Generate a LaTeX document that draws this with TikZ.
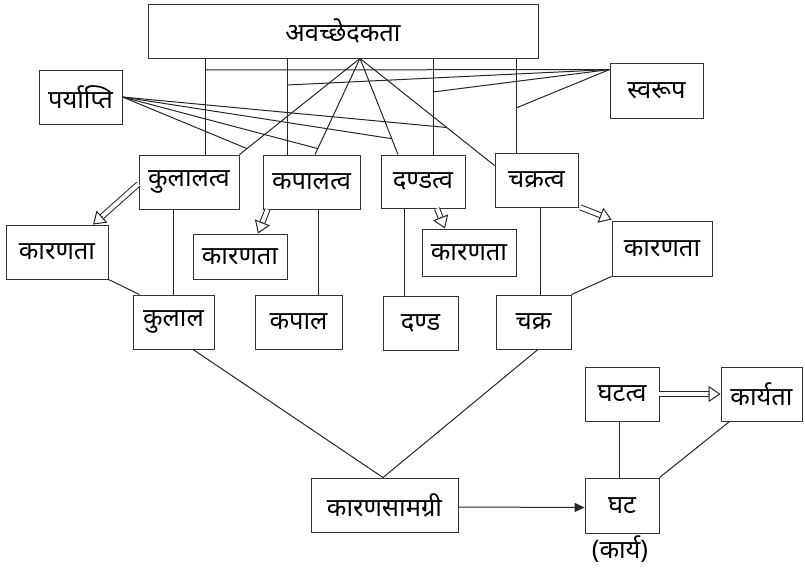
\documentclass[tikz,border=0pt]{standalone}
\usepackage{fontspec}
\newfontfamily\deva[Script=Devanagari]{Noto Sans}
\usetikzlibrary{arrows.meta,calc}

\tikzset{
  box/.style={draw=black!80, line width=0.9pt, minimum height=54pt, inner sep=1pt, font=\deva\fontsize{25.5}{28}\selectfont},
  link/.style={line width=1pt, black!85},
  shaft/.style={line width=1pt, black!85, double, double distance=4pt, shorten >=11pt},
  hollowtip/.style={line width=1pt, black!85, -{Triangle[open, length=12pt, width=16pt, fill=white]}},
}

\begin{document}
\begin{tikzpicture}[x=1pt, y=-1pt]
\useasboundingbox (0,0) rectangle (805,569);

% Top row
\node[box, minimum width=390pt] (avac) at (343,31) {अवच्छेदकता};
\node[box, minimum width=83pt] (paryapti) at (80.5,97) {पर्याप्ति};
\node[box, minimum width=93pt, minimum height=55pt] (svarup) at (656.5,90.5) {स्वरूप};

% -tva boxes
\node[box, minimum width=100pt] (kulalatva) at (189,182) {कुलालत्व};
\node[box, minimum width=97pt] (kapalatva) at (311.5,182) {कपालत्व};
\node[box, minimum width=84pt, minimum height=53pt] (dandatva) at (423,181.5) {दण्डत्व};
\node[box, minimum width=83pt] (chakratva) at (536.5,180) {चक्रत्व};

% karanata boxes
\node[box, minimum width=102pt] (karanata1) at (57,252) {कारणता};
\node[box, minimum width=94pt, minimum height=45pt] (karanata2) at (240,256.5) {कारणता};
\node[box, minimum width=94pt, minimum height=47pt] (karanata3) at (469,252.5) {कारणता};
\node[box, minimum width=100pt, minimum height=55pt] (karanata4) at (662,248.5) {कारणता};

% causes
\node[box, minimum width=81pt] (kulal) at (173.5,322) {कुलाल};
\node[box, minimum width=87pt] (kapal) at (298.5,322) {कपाल};
\node[box, minimum width=75pt] (danda) at (420.5,323) {दण्ड};
\node[box, minimum width=75pt] (chakra) at (533.5,322) {चक्र};

% bottom
\node[box, minimum width=147pt] (samagri) at (384.5,505) {कारणसामग्री};
\node[box, minimum width=74pt, minimum height=55pt] (ghata) at (622,505.5) {घट};
\node[box, minimum width=74pt] (ghatatva) at (622,394) {घटत्व};
\node[box, minimum width=81pt] (karyata) at (761.5,394) {कार्यता};
\node[font=\deva\fontsize{25.5}{28}\selectfont] (karya) at (620,549) {(कार्य)};

% Svarupa: vertical links and their joins
\coordinate (sv) at ([yshift=-7pt]svarup.north west);
\draw[link] ([xshift=16pt]kulalatva.north) -- ([xshift=16pt]kulalatva.north |- avac.south);
\draw[link] ([xshift=-24.5pt]kapalatva.north) -- ([xshift=-24.5pt]kapalatva.north |- avac.south);
\draw[link] ([xshift=10pt]dandatva.north) -- ([xshift=10pt]dandatva.north |- avac.south);
\draw[link] ([xshift=-20.5pt]chakratva.north) -- ([xshift=-20.5pt]chakratva.north |- avac.south);
\foreach \x/\y in {205/70, 287/85, 433/92, 516/108} {
    \draw[link] (sv) -- (\x,\y);
}

% Paryapti: slanted links from one point and their joins
\coordinate (apex) at ([xshift=17pt]avac.south);
\draw[link] (apex) -- (kulalatva.north east) coordinate[pos=0.938] (p1);
\draw[link] (apex) -- ([xshift=3.5pt]kapalatva.north) coordinate[pos=0.938] (p2);
\draw[link] (apex) -- ([xshift=-25pt]dandatva.north) coordinate[pos=0.835] (p3);
\draw[link] (apex) -- ([yshift=-13pt]chakratva.north west) coordinate[pos=0.645] (p4);
\foreach \p in {p1,p2,p3,p4} {
    \draw[link] (paryapti.east) -- (\p);
}

% hollow arrows (shaft, then open head)
\coordinate (h1a) at ([yshift=-2pt]kulalatva.west);
\coordinate (h1b) at ([xshift=36pt]karanata1.north);
\coordinate (h2a) at ([xshift=5pt]kapalatva.south west);
\coordinate (h2b) at ([xshift=18pt]karanata2.north);
\coordinate (h3a) at ([xshift=14pt]dandatva.south);
\coordinate (h3b) at ([xshift=-24pt]karanata3.north);
\coordinate (h4a) at ([xshift=2pt]chakratva.south east);
\coordinate (h4b) at ([yshift=1pt]karanata4.north west);
\coordinate (h5a) at (ghatatva.east);
\coordinate (h5b) at (karyata.west);
\foreach \i in {1,...,5} {
    \draw[shaft] (h\i a) -- (h\i b);
    \draw[hollowtip] ($(h\i b)!12.5pt!(h\i a)$) -- (h\i b);
}

% links down to causes
\draw[link] (kulal.north) -- (kulal.north |- kulalatva.south);
\draw[link] ([xshift=19.5pt]kapal.north) -- ([xshift=19.5pt]kapal.north |- kapalatva.south);
\draw[link] ([xshift=-16.5pt]danda.north) -- ([xshift=-16.5pt]danda.north |- dandatva.south);
\draw[link] ([xshift=6.5pt]chakra.north) -- ([xshift=6.5pt]chakra.north |- chakratva.south);
\draw[link] (karanata1.south east) -- ([xshift=7pt]kulal.north west);
\draw[link] (karanata4.south west) -- (chakra.north east);

% samagri
\draw[link] ([xshift=19.5pt]kulal.south) -- ([xshift=-1.5pt]samagri.north);
\draw[link] ([xshift=4.5pt]chakra.south) -- ([xshift=-1.5pt]samagri.north);
\draw[link, -{Triangle[length=10pt, width=9pt]}] ([yshift=-2pt]samagri.east) -- ([yshift=-2pt]ghata.west);

% ghata
\draw[link] ([xshift=-3pt]ghatatva.south) -- ([xshift=-3pt]ghata.north);
\draw[link] ([xshift=9pt]karyata.south west) -- (ghata.north east);
\end{tikzpicture}
\end{document}
